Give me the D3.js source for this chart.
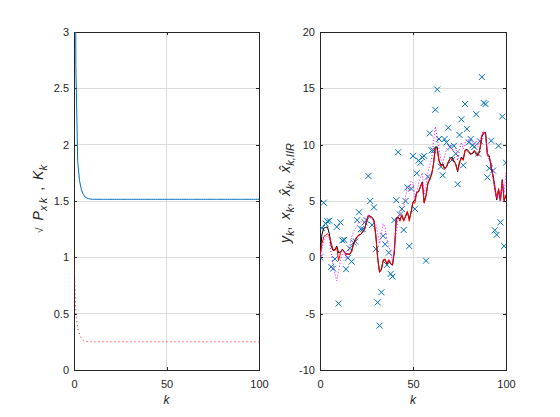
<!DOCTYPE html>
<html>
<head>
<meta charset="utf-8">
<script src="https://cdn.jsdelivr.net/npm/d3@7"></script>
<style>
  body { margin: 0; background: #fff; }
  text { font-family: "Liberation Sans", Arial, Helvetica, sans-serif; fill: #262626; }
</style>
</head>
<body>
<svg id="fig" width="560" height="417"></svg>
<script>
// sample index
let kVals = d3.range(0, 101);

// left panel: sqrt of error covariance and Kalman gain
let pStd = [10, 2.7, 1.85, 1.68, 1.6, 1.56, 1.535, 1.525, 1.52, 1.517,
  1.515, 1.515, 1.515, 1.515, 1.515, 1.515, 1.515, 1.515, 1.515, 1.515,
  1.515, 1.515, 1.515, 1.515, 1.515, 1.515, 1.515, 1.515, 1.515, 1.515,
  1.515, 1.515, 1.515, 1.515, 1.515, 1.515, 1.515, 1.515, 1.515, 1.515,
  1.515, 1.515, 1.515, 1.515, 1.515, 1.515, 1.515, 1.515, 1.515, 1.515,
  1.515, 1.515, 1.515, 1.515, 1.515, 1.515, 1.515, 1.515, 1.515, 1.515,
  1.515, 1.515, 1.515, 1.515, 1.515, 1.515, 1.515, 1.515, 1.515, 1.515,
  1.515, 1.515, 1.515, 1.515, 1.515, 1.515, 1.515, 1.515, 1.515, 1.515,
  1.515, 1.515, 1.515, 1.515, 1.515, 1.515, 1.515, 1.515, 1.515, 1.515,
  1.515, 1.515, 1.515, 1.515, 1.515, 1.515, 1.515, 1.515, 1.515, 1.515,
  1.515];
let gainK = [1.0, 0.5, 0.37, 0.31, 0.28, 0.265, 0.257, 0.253, 0.251, 0.25,
  0.25, 0.25, 0.25, 0.25, 0.25, 0.25, 0.25, 0.25, 0.25, 0.25,
  0.25, 0.25, 0.25, 0.25, 0.25, 0.25, 0.25, 0.25, 0.25, 0.25,
  0.25, 0.25, 0.25, 0.25, 0.25, 0.25, 0.25, 0.25, 0.25, 0.25,
  0.25, 0.25, 0.25, 0.25, 0.25, 0.25, 0.25, 0.25, 0.25, 0.25,
  0.25, 0.25, 0.25, 0.25, 0.25, 0.25, 0.25, 0.25, 0.25, 0.25,
  0.25, 0.25, 0.25, 0.25, 0.25, 0.25, 0.25, 0.25, 0.25, 0.25,
  0.25, 0.25, 0.25, 0.25, 0.25, 0.25, 0.25, 0.25, 0.25, 0.25,
  0.25, 0.25, 0.25, 0.25, 0.25, 0.25, 0.25, 0.25, 0.25, 0.25,
  0.25, 0.25, 0.25, 0.25, 0.25, 0.25, 0.25, 0.25, 0.25, 0.25,
  0.25];

// right panel: measurements, true state, Kalman estimate, IIR estimate
let measY = [0.0, 2.6, 4.85, 3.0, 3.2, 3.25, -0.85, -1.0, -0.15, 2.7,
  -4.1, 3.1, 1.5, 1.55, -1.05, -0.05, 0.8, -0.38, 1.3, 1.4,
  3.3, 4.0, 2.5, 2.5, 3.1, 3.3, 7.22, 5.0, 2.87, 4.44,
  0.74, -4.0, -6.06, -3.1, 1.9, 1.16, -0.67, 0.42, -1.47, -1.71,
  3.3, 5.07, 9.33, 3.8, 4.3, 2.43, 5.0, 6.2, 1.0, 6.1,
  9.0, 4.3, 7.46, 8.6, 8.4, 8.88, 9.0, -0.3, 7.16, 11.0,
  9.5, 9.5, 13.1, 14.9, 10.5, 8.05, 7.28, 10.5, 10.2, 11.5,
  9.77, 8.64, 9.9, 9.2, 6.49, 10.86, 12.25, 8.17, 13.6, 11.4,
  10.2, 10.5, 9.95, 9.8, 12.7, 9.2, 10.3, 16.0, 13.7, 13.6,
  7.1, 7.9, 10.35, 7.7, 2.4, 2.0, 9.9, 3.1, 12.5, 1.0,
  8.4];
let trueX = [0.0, 2.0, 2.6, 2.65, 2.7, 2.1, 1.0, 0.6, 0.7, 1.0,
  0.4, 0.5, 0.7, 0.5, 0.3, 0.3, 0.25, 0.6, 1.2, 1.6,
  1.85, 2.0, 2.05, 2.3, 2.5, 3.2, 3.7, 3.65, 3.55, 3.3,
  2.0, 0.0, -1.3, -1.1, -0.3, -0.2, -0.6, -0.3, -0.6, -0.7,
  0.5, 3.5, 3.5, 3.4, 3.7, 3.3, 3.6, 4.0, 3.4, 4.0,
  4.9, 5.1, 5.8, 5.8, 6.3, 6.7, 4.9, 5.5, 6.6, 6.9,
  7.4, 8.2, 9.8, 9.8, 8.6, 8.2, 8.3, 7.9, 8.0, 8.4,
  8.8, 8.9, 8.5, 8.3, 7.6, 8.4, 8.9, 8.7, 9.5, 9.6,
  9.4, 9.2, 9.2, 9.4, 9.2, 9.1, 9.6, 10.7, 11.0, 11.1,
  9.2, 9.0, 8.0, 7.3, 6.3, 5.1, 6.0, 5.0, 6.9, 5.1,
  5.4];
let kalmanX = [0.0, 1.2, 1.8, 2.0, 2.1, 1.9, 1.3, 0.7, 0.6, 0.9,
  -0.3, 0.4, 0.7, 0.5, 0.2, 0.3, 0.3, 0.5, 1.1, 1.5,
  1.8, 1.95, 2.05, 2.25, 2.5, 3.1, 3.75, 3.6, 3.5, 3.2,
  1.9, -0.1, -1.35, -1.0, -0.2, -0.15, -0.55, -0.2, -0.55, -0.65,
  0.6, 3.3, 3.6, 3.2, 3.8, 3.2, 3.7, 4.1, 3.2, 4.1,
  4.9, 4.8, 5.7, 5.9, 6.2, 6.6, 4.8, 5.4, 6.5, 7.0,
  7.3, 8.3, 9.7, 9.6, 8.5, 8.1, 8.2, 7.8, 8.1, 8.5,
  8.8, 8.7, 8.6, 8.2, 7.7, 8.5, 8.8, 8.6, 9.5, 9.5,
  9.3, 9.1, 9.3, 9.5, 9.1, 9.0, 9.7, 10.8, 11.1, 11.0,
  9.0, 8.9, 8.2, 7.1, 6.0, 5.2, 6.1, 5.1, 6.8, 5.0,
  5.6];
let iirX = [0.0, 0.7, 1.5, 1.8, 1.9, 1.6, 0.4, -0.6, -1.5, -2.1,
  -1.2, -0.3, 0.3, 0.6, -0.1, 0.2, 1.0, 1.8, 2.3, 2.5,
  2.8, 3.1, 3.2, 3.1, 3.0, 3.4, 3.8, 3.5, 3.4, 3.2,
  2.9, 2.2, 1.2, 2.2, 3.0, 2.6, 1.6, 1.0, 0.4, -0.4,
  1.0, 2.2, 3.5, 4.0, 4.2, 4.5, 5.4, 6.3, 5.9, 6.8,
  6.6, 5.2, 5.8, 6.6, 7.1, 7.5, 5.6, 6.3, 7.5, 8.2,
  8.7, 10.2, 11.6, 10.6, 9.6, 8.7, 8.4, 9.0, 9.6, 9.9,
  10.0, 9.5, 9.6, 9.7, 8.6, 9.5, 10.2, 9.6, 10.2, 10.5,
  10.4, 10.4, 10.2, 10.0, 10.3, 9.8, 10.4, 11.0, 11.2, 10.8,
  9.4, 8.6, 8.5, 7.5, 6.3, 5.3, 5.6, 4.9, 6.6, 5.7,
  7.6];

// tick values
let xTicks = [0, 50, 100];
let leftYTicks = [0, 0.5, 1, 1.5, 2, 2.5, 3];
let rightYTicks = [-10, -5, 0, 5, 10, 15, 20];

let svg = d3.select("#fig");
let axisColor = "#262626";

// builds one axes box with grid, mirrored ticks and labels
function makeAxes(id, left, right, top, bottom, xDomain, yDomain, yTicks) {
  let x = d3.scaleLinear().domain(xDomain).range([left, right]);
  let y = d3.scaleLinear().domain(yDomain).range([bottom, top]);
  let g = svg.append("g").attr("id", id);

  // grid
  g.append("g").selectAll("line").data(xTicks.slice(1, -1)).join("line")
    .attr("x1", d => x(d)).attr("x2", d => x(d))
    .attr("y1", top).attr("y2", bottom)
    .attr("stroke", "#dcdcdc").attr("shape-rendering", "crispEdges");
  g.append("g").selectAll("line").data(yTicks.slice(1, -1)).join("line")
    .attr("x1", left).attr("x2", right)
    .attr("y1", d => y(d)).attr("y2", d => y(d))
    .attr("stroke", "#dcdcdc").attr("shape-rendering", "crispEdges");

  let fmt = d => String(d);
  let axes = [
    [d3.axisBottom(x).tickValues(xTicks).tickFormat(fmt).tickPadding(10), `translate(0,${bottom})`],
    [d3.axisTop(x).tickValues(xTicks).tickFormat(""), `translate(0,${top})`],
    [d3.axisLeft(y).tickValues(yTicks).tickFormat(fmt).tickPadding(5), `translate(${left},0)`],
    [d3.axisRight(y).tickValues(yTicks).tickFormat(""), `translate(${right},0)`]
  ];
  axes.forEach(([ax, tr]) => {
    let a = g.append("g").attr("transform", tr)
      .call(ax.tickSizeInner(-3).tickSizeOuter(0));
    a.select(".domain").remove();
    a.selectAll("line").attr("stroke", axisColor).attr("shape-rendering", "crispEdges");
    a.selectAll("text").attr("fill", axisColor).style("font-size", "11px")
      .style("font-family", "'Liberation Sans', Arial, sans-serif");
  });

  g.append("rect")
    .attr("x", left).attr("y", top)
    .attr("width", right - left).attr("height", bottom - top)
    .attr("fill", "none").attr("stroke", axisColor)
    .attr("shape-rendering", "crispEdges");

  // clip for data
  svg.append("clipPath").attr("id", id + "-clip")
    .append("rect").attr("x", left).attr("y", top)
    .attr("width", right - left).attr("height", bottom - top);

  // x label
  g.append("text")
    .attr("x", (left + right) / 2).attr("y", 404)
    .attr("text-anchor", "middle")
    .style("font-size", "12px").style("font-style", "italic")
    .text("k");

  return { x, y, g };
}

// rotated y label built from pieces (sub = subscript)
function yLabel(cx, cy, parts) {
  let t = svg.append("text")
    .attr("transform", `translate(${cx},${cy}) rotate(-90)`)
    .attr("text-anchor", "middle")
    .style("font-size", "14px");
  let shift = 0;
  parts.forEach(p => {
    let dy = 0;
    if (p.sub && shift == 0) { dy = 4; shift = 4; }
    else if (!p.sub && shift != 0) { dy = -4; shift = 0; }
    t.append("tspan")
      .attr("dy", dy)
      .style("font-size", p.sub ? "11px" : (p.size || "14px"))
      .style("font-style", p.it ? "italic" : "normal")
      .text(p.t);
  });
}

// ---- left panel
let L = makeAxes("left", 74, 259, 32, 370, [0, 100], [0, 3], leftYTicks);
let lineL = d3.line().x((d, i) => L.x(kVals[i])).y(d => L.y(d));
let clipL = L.g.append("g").attr("clip-path", "url(#left-clip)");
clipL.append("path").attr("d", lineL(pStd))
  .attr("fill", "none").attr("stroke", "#0072BD").attr("stroke-width", 1);
clipL.append("path").attr("d", lineL(gainK))
  .attr("fill", "none").attr("stroke", "#FF0000").attr("stroke-width", 1)
  .attr("stroke-dasharray", "1,3");

yLabel(43, 199, [
  { t: "\u221A", size: "10px" }, { t: "\u2002P", it: true }, { t: "x\u2009k", sub: true, it: true },
  { t: "\u2002,\u2002" }, { t: "K", it: true }, { t: "k", sub: true, it: true }
]);

// ---- right panel
let R = makeAxes("right", 320, 506, 32, 370, [0, 100], [-10, 20], rightYTicks);
let lineR = d3.line().x((d, i) => R.x(kVals[i])).y(d => R.y(d));
let clipR = R.g.append("g").attr("clip-path", "url(#right-clip)");

clipR.append("g").selectAll("path").data(measY).join("path")
  .attr("transform", (d, i) => `translate(${R.x(kVals[i])},${R.y(d)})`)
  .attr("d", "M-3,-3L3,3M-3,3L3,-3")
  .attr("stroke", "#0072BD").attr("stroke-width", 1).attr("fill", "none");

clipR.append("path").attr("d", lineR(trueX))
  .attr("fill", "none").attr("stroke", "#000").attr("stroke-width", 1);
clipR.append("path").attr("d", lineR(kalmanX))
  .attr("fill", "none").attr("stroke", "#FF0000").attr("stroke-width", 1);
clipR.append("path").attr("d", lineR(iirX))
  .attr("fill", "none").attr("stroke", "#FF00FF").attr("stroke-width", 1)
  .attr("stroke-dasharray", "1,2");

yLabel(290, 193, [
  { t: "y", it: true }, { t: "k", sub: true, it: true }, { t: ",\u2002" },
  { t: "x", it: true }, { t: "k", sub: true, it: true }, { t: ",\u2002" },
  { t: "x\u0302", it: true }, { t: "k", sub: true, it: true }, { t: ",\u2002" },
  { t: "x\u0302", it: true }, { t: "k,IIR", sub: true, it: true }
]);
</script>
</body>
</html>
